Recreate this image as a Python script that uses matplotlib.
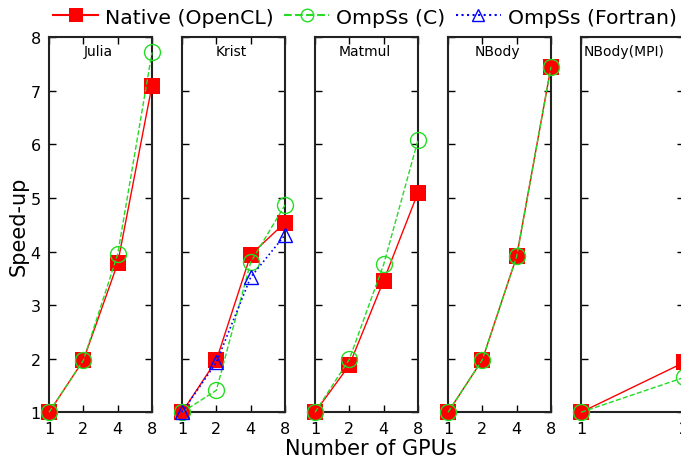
import matplotlib
matplotlib.use('Agg')
import matplotlib.pyplot as plt
from matplotlib.lines import Line2D

plt.rcParams['font.family'] = ['DejaVu Sans']

# 各基准测试的数据
benchmarks = ['Julia', 'Krist', 'Matmul', 'NBody', 'NBody(MPI)']
gpus = [1, 2, 4, 8]
gpus_mpi = [1, 2]

native = {
    'Julia': [1, 1.97, 3.78, 7.10],
    'Krist': [1, 1.97, 3.94, 4.54],
    'Matmul': [1, 1.88, 3.46, 5.10],
    'NBody': [1, 1.98, 3.91, 7.45],
    'NBody(MPI)': [1, 1.93],
}
ompss_c = {
    'Julia': [1, 1.97, 3.95, 7.72],
    'Krist': [1, 1.41, 3.80, 4.87],
    'Matmul': [1, 1.99, 3.76, 6.08],
    'NBody': [1, 1.98, 3.91, 7.45],
    'NBody(MPI)': [1, 1.65],
}
ompss_f = {
    'Krist': [1, 1.93, 3.52, 4.31],
}

fig = plt.figure(figsize=(6.81, 4.6), dpi=100)
W, H = 681.0, 460.0
lefts = [49, 182, 315, 448, 581]
width = 103
bottom, top = 413.3, 38.3

for i, name in enumerate(benchmarks):
    ax = fig.add_axes([lefts[i] / W, (H - bottom) / H, width / W, (bottom - top) / H])
    xs = gpus_mpi if name == 'NBody(MPI)' else gpus
    ax.plot(xs, native[name], color='red', linestyle='-', linewidth=1,
            marker='s', markersize=12, markeredgewidth=0, zorder=3)
    ax.plot(xs, ompss_c[name], color='#22dd22', linestyle='--', linewidth=1,
            marker='o', markersize=11.5, markerfacecolor='none', markeredgewidth=1, zorder=4)
    if name in ompss_f:
        ax.plot(xs, ompss_f[name], color='blue', linestyle=':', linewidth=1.2,
                marker='^', markersize=10, markerfacecolor='none', markeredgewidth=1, zorder=5)
    ax.set_xscale('log', base=2)
    ax.set_xlim(xs[0], xs[-1])
    ax.set_ylim(1, 8)
    ax.set_xticks(xs)
    ax.set_xticklabels([str(x) for x in xs])
    ax.minorticks_off()
    ax.set_yticks(range(1, 9))
    ax.tick_params(direction='in', top=True, right=True, length=5, width=1,
                   labelsize=11.5, pad=6)
    if i > 0:
        ax.set_yticklabels([])
    for sp in ax.spines.values():
        sp.set_linewidth(1.5)
        sp.set_color('#222222')
    for line in ax.lines:
        line.set_clip_on(False)
    ax.text(0.48 if name != 'NBody(MPI)' else 0.03, 0.982, name,
            transform=ax.transAxes, ha='center' if name != 'NBody(MPI)' else 'left',
            va='top', fontsize=10)

fig.text(0.028, (H - 226) / H, 'Speed-up', rotation=90, ha='center', va='center', fontsize=15)
fig.text(0.545, (H - 449) / H, 'Number of GPUs', ha='center', va='center', fontsize=15)

handles = [
    Line2D([], [], color='red', linestyle='-', marker='s', markersize=10, markeredgewidth=0),
    Line2D([], [], color='#22dd22', linestyle='--', marker='o', markersize=9, markerfacecolor='none'),
    Line2D([], [], color='blue', linestyle=':', marker='^', markersize=8, markerfacecolor='none'),
]
fig.legend(handles, ['Native (OpenCL)', 'OmpSs (C)', 'OmpSs (Fortran)'],
           loc='center', bbox_to_anchor=(0.536, (H - 18) / H), ncol=3, frameon=False,
           fontsize=14.7, handlelength=2.2, handletextpad=0.35, columnspacing=0.5,
           borderpad=0, borderaxespad=0)

fig.savefig('out.png', dpi=100)
